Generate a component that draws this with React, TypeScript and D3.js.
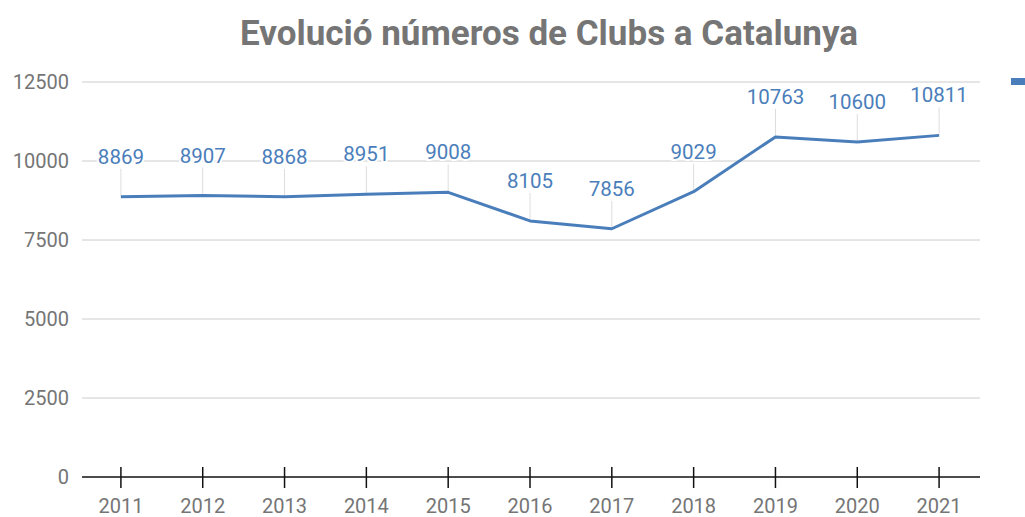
import React from 'react'
import * as d3 from 'd3'

const years = ['2011', '2012', '2013', '2014', '2015', '2016', '2017', '2018', '2019', '2020', '2021']
const clubs = [8869, 8907, 8868, 8951, 9008, 8105, 7856, 9029, 10763, 10600, 10811]
const yTicks = [0, 2500, 5000, 7500, 10000, 12500]

const W = 1025
const H = 517
const margin = { left: 80, right: 45, top: 82, bottom: 40 }
const blue = '#4a7ebb'
const grey = '#757575'
const font = 'Roboto, sans-serif'

const App = () => {
  const x = d3.scalePoint<string>()
    .domain(years)
    .range([margin.left, W - margin.right])
    .padding(0.5)

  const y = d3.scaleLinear()
    .domain([0, 12500])
    .range([H - margin.bottom, margin.top])

  const line = d3.line<number>()
    .x((d, i) => x(years[i]) as number)
    .y(d => y(d))

  const gridLeft = 82
  const gridRight = 980

  return (
    <svg width={W} height={H} style={{ position: 'absolute', left: 0, top: 0, background: '#fff' }}>
      <text x={549} y={45} textAnchor="middle" fontFamily={font} fontWeight={700} fontSize={35} fill={grey}>
        Evolució números de Clubs a Catalunya
      </text>

      {yTicks.map(t => (
        <g key={t}>
          {t > 0 && <line x1={gridLeft} x2={gridRight} y1={y(t)} y2={y(t)} stroke="#cccccc" strokeWidth={1} />}
          <text x={69} y={y(t)} dy="0.36em" textAnchor="end" fontFamily={font} fontSize={20} fill={grey}>{t}</text>
        </g>
      ))}

      {/* leader lines from each point to its label */}
      {clubs.map((v, i) => (
        <line key={'l' + i} x1={x(years[i])} x2={x(years[i])} y1={y(v)} y2={y(v) - 28} stroke="#dddddd" strokeWidth={1} />
      ))}

      <path d={line(clubs) || ''} fill="none" stroke={blue} strokeWidth={3} strokeLinejoin="round" />

      {clubs.map((v, i) => (
        <text key={'t' + i} x={x(years[i])} y={y(v) - 33} textAnchor="middle" fontFamily={font} fontSize={20.5} fill={blue}
          stroke="#fff" strokeWidth={4} paintOrder="stroke">
          {v}
        </text>
      ))}

      {/* baseline axis */}
      <line x1={gridLeft} x2={gridRight} y1={y(0)} y2={y(0)} stroke="#111" strokeWidth={1.5} />
      {years.map(yr => (
        <g key={yr}>
          <line x1={x(yr)} x2={x(yr)} y1={y(0) - 10} y2={y(0) + 11} stroke="#111" strokeWidth={1.5} />
          <text x={x(yr)} y={513} textAnchor="middle" fontFamily={font} fontSize={20} fill={grey}>{yr}</text>
        </g>
      ))}

      {/* legend swatch, cut off at right edge */}
      <rect x={1011} y={78} width={20} height={7} fill={blue} />
    </svg>
  )
}

export default App
